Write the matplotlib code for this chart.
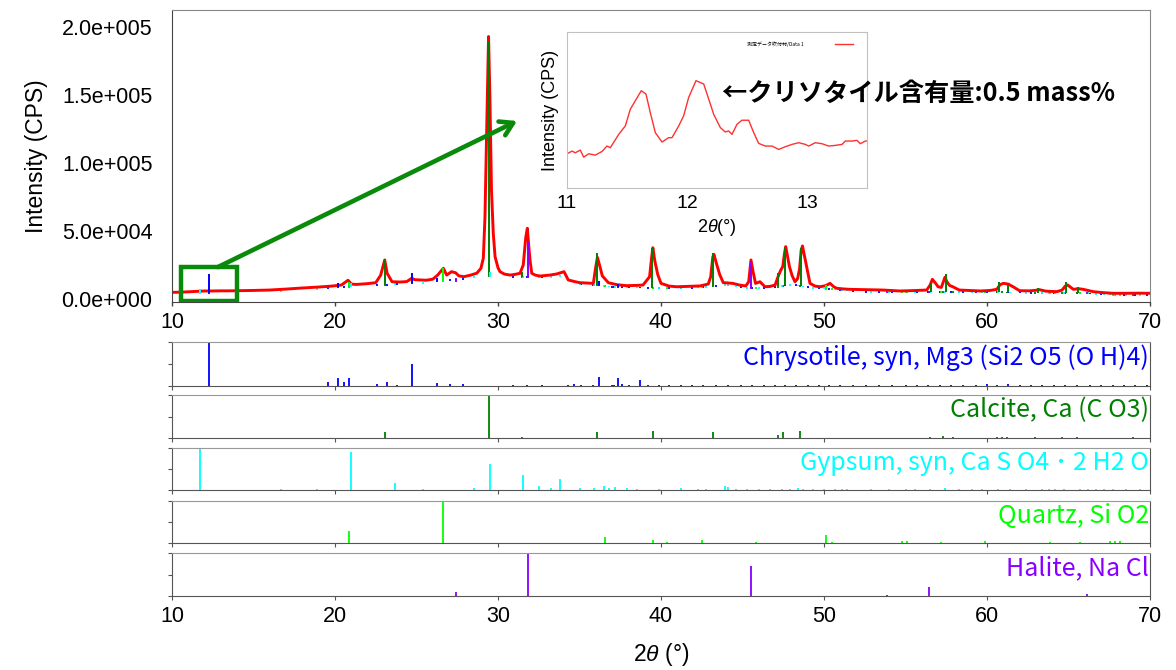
import numpy as np
import matplotlib
matplotlib.use("Agg")
import matplotlib.pyplot as plt

plt.rcParams['font.family'] = ['Liberation Sans', 'DejaVu Sans']
plt.rcParams['mathtext.fontset'] = 'custom'
plt.rcParams['mathtext.it'] = 'Liberation Sans:italic'
plt.rcParams['mathtext.rm'] = 'Liberation Sans'

# ---------------- measured pattern (2theta, CPS) ----------------
tt = [10.0, 10.5, 11.0, 11.5, 12.0, 12.5, 13.0, 13.5, 14.0, 15.0, 16.0, 17.0, 18.0, 19.0,
      19.8, 20.4, 20.6, 20.8, 21.0, 21.3, 22.0, 22.5, 22.8, 23.05, 23.2, 23.5, 24.0, 24.4,
      24.7, 24.9, 25.2, 25.6, 26.0, 26.3, 26.65, 26.85, 27.15, 27.4, 27.6, 27.9, 28.3, 28.7,
      28.95, 29.1, 29.2, 29.3, 29.42, 29.5, 29.6, 29.71, 29.82, 30.0, 30.12, 30.4, 30.74,
      31.0, 31.35, 31.55, 31.7, 31.8, 31.88, 31.97, 32.07, 32.3, 32.58, 32.9, 33.19, 33.6,
      33.9, 34.05, 34.31, 34.7, 35.03, 35.5, 35.85, 36.0, 36.1, 36.25, 36.4, 36.77, 37.3,
      37.9, 38.5, 38.9, 39.3, 39.42, 39.5, 39.62, 39.8, 40.0, 40.5, 40.96, 41.7, 42.39,
      42.9, 43.05, 43.18, 43.25, 43.38, 43.6, 43.82, 44.1, 44.4, 44.8, 45.2, 45.38, 45.52,
      45.65, 45.8, 46.07, 46.38, 46.7, 47.0, 47.2, 47.35, 47.47, 47.57, 47.65, 47.75, 47.88,
      48.05, 48.22, 48.38, 48.5, 48.6, 48.68, 48.78, 48.9, 49.05, 49.14, 49.45, 49.75, 50.1,
      50.37, 50.6, 50.78, 51.2, 51.6, 52.5, 53.6, 54.66, 55.5, 56.3, 56.5, 56.65, 56.85,
      57.0, 57.2, 57.42, 57.55, 57.7, 57.9, 58.3, 59.0, 59.6, 60.2, 60.6, 60.8, 61.0, 61.3,
      61.6, 62.0, 62.6, 63.0, 63.2, 63.6, 64.27, 64.6, 64.8, 64.95, 65.3, 65.6, 65.9, 66.52,
      67.1, 67.75, 68.5, 69.3, 70.0]
cps = [4900, 5000, 5300, 5600, 5900, 5900, 6000, 6000, 6100, 6300, 6600, 7300, 8100, 8800,
       9500, 10300, 12000, 13800, 11000, 10700, 11300, 12000, 17500, 28700, 18900, 12700, 12500, 12800,
       15200, 14200, 14000, 13800, 14600, 17600, 22600, 17600, 20100, 19300, 17000, 16400, 17500, 19000,
       22500, 30000, 60000, 120000, 193000, 150000, 80000, 48300, 31100, 23000, 20100, 18300, 17600,
       18000, 18900, 25000, 45000, 52000, 40000, 28000, 18900, 17500, 16900, 17300, 17600, 18400,
       19500, 20100, 14000, 12800, 12000, 11700, 11500, 23800, 30600, 24000, 17000, 12000, 10500,
       9800, 10000, 10300, 16400, 30000, 37700, 28000, 18000, 11500, 9500, 9000, 9300, 9600,
       11000, 16400, 31000, 32800, 27000, 18000, 12000, 11800, 11500, 10300, 9600, 12700, 28700,
       20000, 11500, 12700, 9000, 9300, 10300, 17000, 21300, 23800, 33000, 38500, 32000, 23800,
       17000, 12700, 15000, 22000, 36000, 39000, 33000, 26200, 17000, 11500, 9500, 9000, 9800,
       11500, 9000, 7900, 7400, 7100, 6900, 6600, 5900, 6200, 6600, 10000, 14500, 11500,
       9000, 8500, 16000, 12500, 10000, 9000, 6600, 6200, 5900, 6300, 7100, 10500, 11500, 11000,
       9000, 6100, 6000, 6400, 6900, 5800, 5400, 6500, 9500, 10300, 7100, 7600, 7100, 5400,
       4700, 4200, 4200, 4300, 4200]

# background level under the sticks
bg_x = [10, 14, 18, 20, 22, 24, 26, 28, 29, 30, 31, 32, 33, 34, 35, 36, 37, 38, 40, 42, 44,
        45, 46, 47, 48, 49, 50, 52, 54, 56, 58, 60, 62, 64, 66, 68, 70]
bg_y = [4900, 6100, 8100, 9800, 11300, 12300, 13800, 16500, 18500, 18500, 17600, 17200, 17500,
        18500, 12000, 11500, 10300, 9900, 9500, 9600, 11500, 9800, 9500, 10000, 12000, 10000,
        9000, 7000, 6200, 6500, 6400, 6300, 6100, 5600, 5600, 4300, 4200]

# ---------------- reference patterns (2theta, relative intensity) ----------------
chry_pos = [12.27, 19.55, 20.16, 20.53, 20.86, 22.58, 23.17, 23.78, 24.74, 26.28, 27.06, 27.83,
            30.94, 31.80, 32.68, 34.31, 34.66, 35.09, 35.81, 36.20, 36.97, 37.10, 37.38, 37.59,
            38.04, 38.71, 39.2, 39.9, 40.5, 41.2, 41.9, 42.6, 43.4, 44.1, 44.9, 45.6, 46.3, 47.0,
            47.6, 48.3, 49.0, 49.7, 50.3, 51.0, 51.8, 52.6, 53.4, 54.2, 55.0, 55.7, 56.4, 57.1,
            57.8, 58.5, 59.3, 60.0, 60.6, 61.3, 62.0, 62.7, 63.4, 64.1, 64.8, 65.5, 66.3, 67.0,
            67.7, 68.4, 69.1, 69.8]
chry_rel = [100, 8, 18, 8, 19, 4, 10, 3, 50, 7, 4, 5, 2, 2, 3, 3, 4, 3, 3, 21, 3, 3, 19, 4,
            2, 13, 3, 2, 3, 2, 3, 2, 2, 3, 2, 3, 2, 2, 3, 2, 3, 2, 2, 3, 2, 2, 3, 2, 2, 3, 2, 3,
            2, 2, 3, 4, 3, 4, 3, 2, 3, 2, 3, 2, 3, 2, 2, 3, 2, 3]
calc_pos = [23.09, 29.47, 31.45, 36.05, 39.49, 43.21, 47.16, 47.50, 48.53, 56.50, 57.32, 57.93,
            60.59, 60.90, 61.21, 62.94, 64.58, 65.50, 68.98]
calc_rel = [13, 100, 2, 15, 17, 14, 8, 15, 17, 3, 5, 2, 3, 3, 2, 2, 3, 3, 2]
gyps_pos = [11.72, 16.67, 18.92, 20.96, 23.68, 25.38, 28.53, 29.51, 31.52, 32.53, 33.25, 33.80,
            35.03, 35.91, 36.50, 36.83, 37.18, 37.93, 38.51, 39.9, 41.2, 42.3, 42.75, 43.9,
            44.1, 44.6, 45.3, 46.0, 46.7, 47.4, 47.9, 48.4, 48.7, 49.3, 50.0, 50.7, 51.1, 51.4,
            52.9, 54.0, 55.0, 55.6, 56.5, 57.4, 58.3, 59.1, 59.7, 60.7, 61.4, 62.4, 63.4, 63.8,
            64.2, 64.7, 65.7, 66.2, 66.7, 67.2, 67.7, 68.5, 69.4]
gyps_rel = [100, 3, 3, 90, 16, 3, 4, 61, 36, 9, 5, 27, 5, 4, 9, 4, 6, 4, 3, 3, 5, 2, 3, 10,
            8, 3, 2, 2, 3, 2, 3, 4, 2, 3, 2, 2, 3, 2, 2, 2, 2, 3, 2, 5, 2, 3, 2, 3, 2, 2, 2, 3,
            2, 3, 2, 2, 2, 3, 2, 2, 3]
quar_pos = [20.86, 26.61, 36.55, 39.49, 40.35, 42.54, 45.83, 50.10, 50.47, 54.77, 55.07, 57.18,
            59.88, 63.87, 65.71, 67.55, 67.85, 68.16]
quar_rel = [29, 100, 14, 7, 3, 7, 3, 20, 3, 4, 4, 3, 5, 3, 3, 4, 4, 4]
hali_pos = [27.42, 31.82, 45.52, 53.88, 56.46, 66.12]
hali_rel = [9, 100, 70, 2, 20, 5]

# sticks visible above the background in the main plot (2theta, top CPS)
chry_main_pos = [12.27, 20.16, 20.86, 24.74, 26.28, 36.20, 37.38]
chry_main_top = [18200, 11500, 11500, 18900, 15500, 13000, 11000]
calc_main_pos = [23.07, 29.44, 31.45, 36.07, 39.47, 43.20, 47.20, 47.58, 48.60, 56.55, 57.50,
                 60.75, 61.30, 63.15, 64.85, 65.60]
calc_main_top = [29400, 190000, 20100, 34000, 37700, 33600, 18900, 37300, 37300, 11500, 18400,
                 12700, 10300, 7900, 12700, 9000]
gyps_main_pos = [11.72, 20.96, 29.51]
gyps_main_top = [7100, 11500, 20000]
quar_main_pos = [20.86, 26.61, 50.10]
quar_main_top = [12500, 22600, 10000]
hali_main_pos = [27.42, 31.82, 45.52]
hali_main_top = [12500, 43000, 28000]

# inset (zoom of 11 - 13.5 deg)
in_tt = [11.000, 11.042, 11.069, 11.111, 11.139, 11.181, 11.236, 11.292, 11.333, 11.361, 11.431,
         11.486, 11.528, 11.569, 11.619, 11.658, 11.694, 11.736, 11.792, 11.847, 11.875, 11.931,
         11.972, 12.014, 12.075, 12.139, 12.181, 12.222, 12.278, 12.319, 12.347, 12.375, 12.417,
         12.458, 12.514, 12.556, 12.597, 12.653, 12.708, 12.764, 12.819, 12.875, 12.931, 12.986,
         13.014, 13.069, 13.125, 13.181, 13.236, 13.292, 13.319, 13.375, 13.417, 13.444, 13.486,
         13.5]
in_cps = [5020, 5100, 5050, 5130, 4920, 5020, 4980, 5090, 5250, 5200, 5600, 5850, 6350, 6600,
          6900, 6800, 6250, 5650, 5370, 5500, 5500, 5850, 6150, 6700, 7200, 7100, 6650, 6200,
          5800, 5670, 5700, 5600, 5900, 6020, 6020, 5650, 5330, 5250, 5250, 5150, 5230, 5300,
          5350, 5300, 5250, 5350, 5320, 5250, 5270, 5300, 5400, 5400, 5420, 5320, 5400, 5400]

x_ticks = [10, 20, 30, 40, 50, 60, 70]
y_ticks = [0, 50000, 100000, 150000, 200000]
y_tick_labels = ['0.0e+000', '5.0e+004', '1.0e+005', '1.5e+005', '2.0e+005']

phases = [
    ('Chrysotile, syn, Mg3 (Si2 O5 (O H)4)', '#0000ff', chry_pos, chry_rel, chry_main_pos, chry_main_top),
    ('Calcite, Ca (C O3)', '#008000', calc_pos, calc_rel, calc_main_pos, calc_main_top),
    ('Gypsum, syn, Ca S O4 \uff65 2 H2 O', '#00ffff', gyps_pos, gyps_rel, gyps_main_pos, gyps_main_top),
    ('Quartz, Si O2', '#00ff00', quar_pos, quar_rel, quar_main_pos, quar_main_top),
    ('Halite, Na Cl', '#8800ff', hali_pos, hali_rel, hali_main_pos, hali_main_top),
]

W, H = 1176, 670
fig = plt.figure(figsize=(W / 100, H / 100), dpi=100)

def fx(px):
    return px / W

def fy(py):
    return 1 - py / H

# ---------------- main axes ----------------
ax = fig.add_axes([fx(172), fy(302), fx(1150) - fx(172), fy(10) - fy(302)])
ax.set_xlim(10, 70)
ax.set_ylim(-2200, 212500)

# small background specks from reference sticks
for name, col, pos, rel, mpos, mtop in phases:
    p = np.array(pos)
    b = np.interp(p, bg_x, bg_y) - 2000
    ax.vlines(p, b, b + 1300 + np.array(rel) * 8, colors=col, lw=1.3, zorder=1)

ax.plot(tt, cps, color='#ff0000', lw=2.1, zorder=2)

for name, col, pos, rel, mpos, mtop in phases:
    p = np.array(mpos)
    b = np.interp(p, bg_x, bg_y) - 1200
    ax.vlines(p, b, mtop, colors=col, lw=1.4, zorder=3)

ax.set_xticks(x_ticks)
ax.set_xticklabels([str(v) for v in x_ticks])
ax.set_yticks(y_ticks)
ax.set_yticklabels(y_tick_labels)
ax.tick_params(axis='x', length=3, width=1, color='#444', labelsize=15.5, pad=4)
ax.tick_params(axis='y', length=0, labelsize=15.5, pad=14)
ax.set_ylabel('Intensity (CPS)', fontsize=16.5, labelpad=10)
for s in ['left', 'bottom']:
    ax.spines[s].set_color('#444')
for s in ['top', 'right']:
    ax.spines[s].set_color('#888')

# green box and arrow
ax.add_patch(plt.Rectangle((10.55, -1500), 3.45, 25000, fill=False, ec='#0a8a0a', lw=3.2, zorder=4))
ax.annotate('', xy=(31.17, 130900), xytext=(12.82, 23500),
            arrowprops=dict(arrowstyle='->,head_length=0.9,head_width=0.55', color='#0a8a0a',
                            lw=3.3, shrinkA=0, shrinkB=0), zorder=4)

# ---------------- inset ----------------
axi = fig.add_axes([fx(567), fy(188), fx(867) - fx(567), fy(32) - fy(188)])
axi.plot(in_tt, in_cps, color='#ff3030', lw=1.0)
axi.set_xlim(11, 13.5)
axi.set_ylim(4000, 8650)
axi.set_xticks([11, 12, 13])
axi.set_xticklabels(['11', '12', '13'])
axi.set_yticks([])
axi.tick_params(axis='x', length=0, labelsize=14, pad=5)
axi.set_ylabel('Intensity (CPS)', fontsize=13, labelpad=6)
axi.set_xlabel(r'2$\theta$(°)', fontsize=13, labelpad=4)
for s in axi.spines.values():
    s.set_color('#c0c0c0')
axi.text(0.60, 0.923, '測定データ吹付材/Data 1', transform=axi.transAxes, fontsize=3.6,
         va='center', ha='left', family=['Noto Sans CJK JP', 'DejaVu Sans'])
axi.plot([0.893, 0.953], [0.923, 0.923], transform=axi.transAxes, color='#ff3030', lw=1.0)

fig.text(fx(722), fy(93), '←クリソタイル含有量:0.5 mass%', fontsize=18.2, fontweight='bold',
         ha='left', va='center', family=['Noto Sans CJK JP', 'DejaVu Sans'])

# ---------------- reference stick panels ----------------
panel_px = [(342, 386), (395, 438), (448, 490), (501, 543), (553, 596)]
for i, ((name, col, pos, rel, mpos, mtop), (t, b)) in enumerate(zip(phases, panel_px)):
    pa = fig.add_axes([fx(172), fy(b), fx(1150) - fx(172), fy(t) - fy(b)])
    pa.vlines(pos, 0, rel, colors=col, lw=1.3)
    pa.set_xlim(10, 70)
    pa.set_ylim(0, 100)
    pa.set_xticks(x_ticks)
    pa.set_yticks([0, 50, 100])
    pa.set_yticklabels([])
    pa.tick_params(axis='y', length=3, color='#555')
    if i < 4:
        pa.set_xticklabels([])
        pa.tick_params(axis='x', length=3, color='#555')
    else:
        pa.set_xticklabels([str(v) for v in x_ticks])
        pa.tick_params(axis='x', length=3, color='#555', labelsize=15.5, pad=4)
        pa.set_xlabel(r'2$\theta$ (°)', fontsize=16.5, labelpad=10)
    for s in pa.spines.values():
        s.set_color('#555')
    pa.spines['top'].set_color('#999')
    pa.text(0.999, 0.65, name, transform=pa.transAxes, ha='right', va='center', color=col,
            fontsize=18, family=['Noto Sans CJK JP', 'DejaVu Sans'])

fig.savefig('out.png', dpi=100)
